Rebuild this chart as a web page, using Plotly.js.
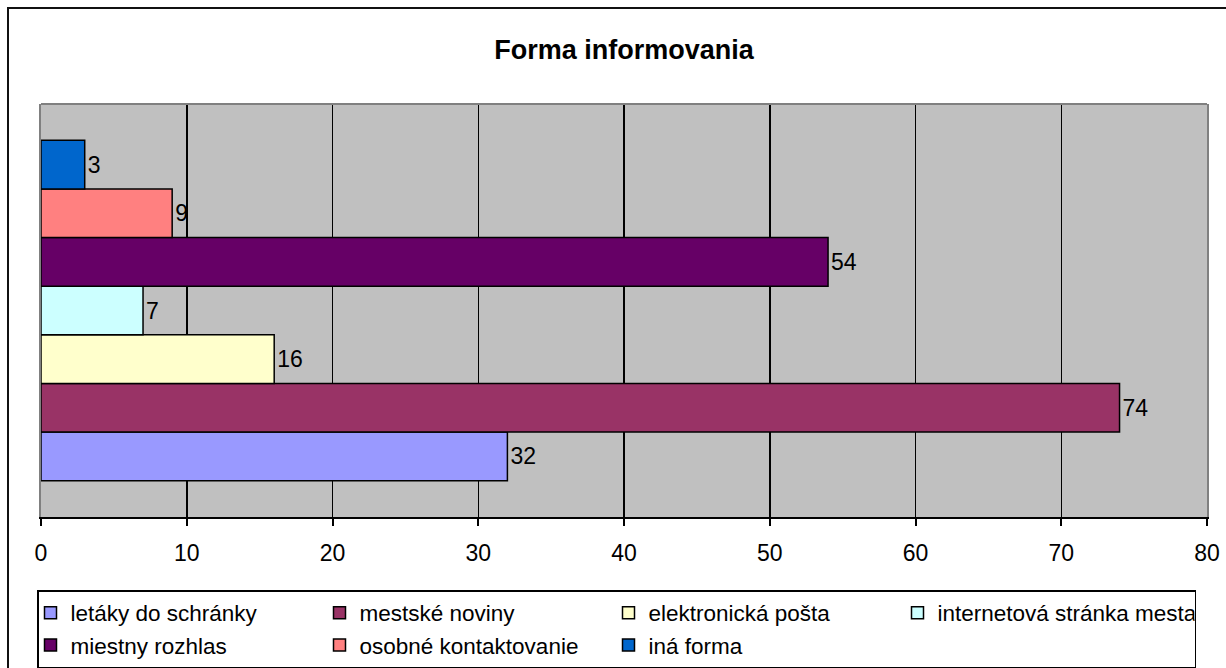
<!DOCTYPE html>
<html>
<head>
<meta charset="utf-8">
<script src="https://cdn.plot.ly/plotly-3.0.1.min.js"></script>
<style>
html,body{margin:0;padding:0;background:#fff;}
#chart{width:1226px;height:668px;}
</style>
</head>
<body>
<div id="chart"></div>
<script>
const category = ['Forma informovania'];
const seriesNames = ['letáky do schránky','mestské noviny','elektronická pošta','internetová stránka mesta','miestny rozhlas','osobné kontaktovanie','iná forma'];
const seriesValues = [32, 74, 16, 7, 54, 9, 3];
const seriesColors = ['#9999FF','#993366','#FFFFCC','#CCFFFF','#660066','#FF8080','#0066CC'];
const xTicks = [0,10,20,30,40,50,60,70,80];

const FONT = 'Arial, "Liberation Sans", sans-serif';

const traces = seriesNames.map((name, i) => ({
  type: 'bar',
  orientation: 'h',
  name: name,
  y: category,
  x: [seriesValues[i]],
  marker: {color: seriesColors[i], line: {color: '#000', width: 1.5}},
  text: [String(seriesValues[i])],
  textposition: 'outside',
  textfont: {family: FONT, size: 23, color: '#000'},
  cliponaxis: false,
  hoverinfo: 'x+name'
}));

const layout = {
  width: 1226, height: 668,
  margin: {l: 41, r: 19, t: 104, b: 151, pad: 0},
  paper_bgcolor: '#fff',
  plot_bgcolor: '#C0C0C0',
  font: {family: FONT, size: 23, color: '#000'},
  title: {text: 'Forma informovania', font: {family: FONT, size: 27, color: '#000', weight: 'bold'},
          x: 0.5, xref: 'paper', xanchor: 'center', y: 1 - 50/668, yref: 'container', yanchor: 'middle'},
  barmode: 'group',
  bargap: 0.176,
  bargroupgap: 0,
  xaxis: {
    range: [0, 80], tickvals: xTicks, ticktext: xTicks.map(String),
    showgrid: true, gridcolor: '#000', gridwidth: 1.5,
    zeroline: false, showline: true, linecolor: '#000', linewidth: 2,
    ticks: 'outside', ticklen: 7, tickwidth: 2, tickcolor: '#000',
    ticklabelstandoff: 7,
    tickfont: {family: FONT, size: 23, color: '#000'},
    fixedrange: true
  },
  yaxis: {
    type: 'category', showticklabels: false, showgrid: false, zeroline: false,
    showline: true, linecolor: '#808080', linewidth: 2, mirror: true, ticks: '',
    fixedrange: true
  },
  legend: {
    orientation: 'h', traceorder: 'normal',
    xref: 'container', yref: 'container',
    x: 37/1226, xanchor: 'left', y: 1 - 590/668, yanchor: 'top',
    bgcolor: '#fff', bordercolor: '#000', borderwidth: 1.5,
    font: {family: FONT, size: 22.5, color: '#000'},
    entrywidth: 252, entrywidthmode: 'pixels',
    itemwidth: 30, indentation: -8
  },
  shapes: [
    {type: 'line', xref: 'paper', yref: 'paper', x0: 0, x1: 1, y0: 1, y1: 1,
     line: {color: '#808080', width: 2}},
    {type: 'rect', xref: 'paper', yref: 'paper',
     x0: (8-41)/1166, x1: 1.2, y0: -0.6, y1: (517-8)/413,
     line: {color: '#111', width: 2}, fillcolor: 'rgba(0,0,0,0)'}
  ],
  showlegend: true
};

Plotly.newPlot('chart', traces, layout, {displayModeBar: false, staticPlot: true});
</script>
</body>
</html>
